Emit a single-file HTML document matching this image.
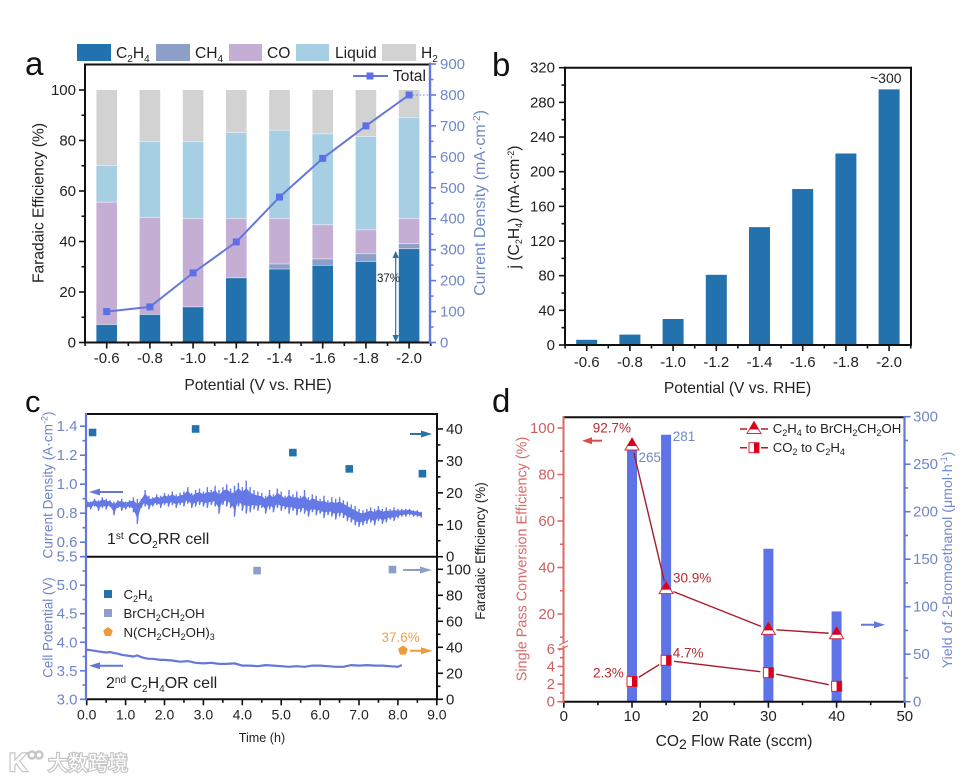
<!DOCTYPE html>
<html lang="en">
<head>
<meta charset="utf-8">
<title>Electrocatalysis results figure</title>
<style>
html,body{margin:0;padding:0;background:#fff;}
svg{display:block;font-family:"Liberation Sans","Noto Sans CJK SC",sans-serif;}
</style>
</head>
<body>
<svg id="fig" xmlns="http://www.w3.org/2000/svg" width="976" height="780" viewBox="0 0 976 780">
  <rect width="976" height="780" fill="#fff"/>
  <g id="layer-marks"></g>

  <!-- Panel a static -->
  <g>
    <text x="25" y="75" font-size="33" fill="#111">a</text>
    <g>
      <rect x="77" y="44" width="34" height="17" fill="#2372ae"/>
      <text x="116" y="58" font-size="15.6" fill="#222">C<tspan dy="4" font-size="10">2</tspan><tspan dy="-4">H</tspan><tspan dy="4" font-size="10">4</tspan></text>
      <rect x="156" y="44" width="34" height="17" fill="#8d9fc9"/>
      <text x="195" y="58" font-size="15.6" fill="#222">CH<tspan dy="4" font-size="10">4</tspan></text>
      <rect x="229" y="44" width="33" height="17" fill="#c4aed4"/>
      <text x="267" y="58" font-size="15.6" fill="#222">CO</text>
      <rect x="296" y="44" width="33" height="17" fill="#a6cfe3"/>
      <text x="335" y="58" font-size="15.6" fill="#222">Liquid</text>
      <rect x="382" y="44" width="34" height="17" fill="#d2d2d2"/>
      <text x="421" y="58" font-size="15.6" fill="#222">H<tspan dy="4" font-size="10">2</tspan></text>
    </g>
    <text x="258" y="390" font-size="15.6" text-anchor="middle" fill="#222">Potential (V vs. RHE)</text>
    <text transform="translate(43.5,203) rotate(-90)" font-size="15.6" text-anchor="middle" fill="#222">Faradaic Efficiency (%)</text>
    <text transform="translate(485,203) rotate(-90)" font-size="16" text-anchor="middle" fill="#6f8ac6">Current Density (mA·cm<tspan dy="-5" font-size="10">-2</tspan><tspan dy="5">)</tspan></text>
    <g>
      <line x1="353" y1="76" x2="388" y2="76" stroke="#6478dc" stroke-width="2"/>
      <rect x="366.5" y="72.5" width="7" height="7" fill="#5b6fe8"/>
      <text x="393" y="81" font-size="15.6" fill="#222">Total</text>
    </g>
    <text x="377" y="282" font-size="11.5" fill="#222">37%</text>
    <g stroke="#2372ae" fill="#2372ae">
      <line x1="395.7" y1="254" x2="395.7" y2="340" stroke-width="1.2"/>
      <polygon points="395.7,251 392.5,258 398.9,258" stroke="none"/>
      <polygon points="395.7,342 392.5,335 398.9,335" stroke="none"/>
    </g>
  </g>

  <!-- Panel b static -->
  <g>
    <text x="492" y="76" font-size="33" fill="#111">b</text>
    <text x="737.5" y="393" font-size="15.6" text-anchor="middle" fill="#222">Potential (V vs. RHE)</text>
    <text transform="translate(519,207) rotate(-90)" font-size="15.6" text-anchor="middle" fill="#222">j (C<tspan dy="3" font-size="9">2</tspan><tspan dy="-3">H</tspan><tspan dy="3" font-size="9">4</tspan><tspan dy="-3">) (mA·cm</tspan><tspan dy="-5" font-size="9">-2</tspan><tspan dy="5">)</tspan></text>
    <text x="870" y="83" font-size="14" fill="#222">~300</text>
  </g>

  <!-- Panel c static -->
  <g>
    <text x="25" y="412" font-size="31" fill="#111">c</text>
    <text transform="translate(52.5,485) rotate(-90)" font-size="13.6" text-anchor="middle" fill="#6f85c8">Current Density (A·cm<tspan dy="-5" font-size="9">-2</tspan><tspan dy="5">)</tspan></text>
    <text transform="translate(52.5,627.5) rotate(-90)" font-size="13.4" text-anchor="middle" fill="#6f85c8">Cell Potential (V)</text>
    <text transform="translate(485,551) rotate(-90)" font-size="13.4" text-anchor="middle" fill="#222">Faradaic Efficiency (%)</text>
    <text x="262" y="742" font-size="12.6" text-anchor="middle" fill="#222">Time (h)</text>
    <text x="107" y="544" font-size="16" fill="#222">1<tspan dy="-5" font-size="10">st</tspan><tspan dy="5"> CO</tspan><tspan dy="4" font-size="10">2</tspan><tspan dy="-4">RR cell</tspan></text>
    <text x="106" y="688" font-size="16" fill="#222">2<tspan dy="-5" font-size="10">nd</tspan><tspan dy="5"> C</tspan><tspan dy="4" font-size="10">2</tspan><tspan dy="-4">H</tspan><tspan dy="4" font-size="10">4</tspan><tspan dy="-4">OR cell</tspan></text>
    <g>
      <rect x="104" y="590" width="8" height="8" fill="#2372ae"/>
      <text x="123.5" y="599" font-size="13.2" fill="#222">C<tspan dy="3" font-size="9">2</tspan><tspan dy="-3">H</tspan><tspan dy="3" font-size="9">4</tspan></text>
      <rect x="104" y="609" width="8" height="8" fill="#8d9fc9"/>
      <text x="123.5" y="618" font-size="13.2" fill="#222">BrCH<tspan dy="3" font-size="9">2</tspan><tspan dy="-3">CH</tspan><tspan dy="3" font-size="9">2</tspan><tspan dy="-3">OH</tspan></text>
      <polygon points="108,627 112.8,630.5 111,636 105,636 103.2,630.5" fill="#ec9a3a"/>
      <text x="123.5" y="637" font-size="13.2" fill="#222">N(CH<tspan dy="3" font-size="9">2</tspan><tspan dy="-3">CH</tspan><tspan dy="3" font-size="9">2</tspan><tspan dy="-3">OH)</tspan><tspan dy="3" font-size="9">3</tspan></text>
    </g>
    <text x="381.5" y="642" font-size="13.5" fill="#e9a24a">37.6%</text>
    <g>
      <g stroke="#6478dc" fill="#6478dc"><line x1="123" y1="492" x2="94" y2="492" stroke-width="2"/><polygon points="89,492 100,488.5 100,495.5" stroke="none"/></g>
      <g stroke="#2a72a5" fill="#2a72a5"><line x1="410" y1="434" x2="426" y2="434" stroke-width="2"/><polygon points="432,434 421,430.5 421,437.5" stroke="none"/></g>
      <g stroke="#8d9fc9" fill="#8d9fc9"><line x1="403" y1="570" x2="426" y2="570" stroke-width="2"/><polygon points="432,570 420,566.5 420,573.5" stroke="none"/></g>
      <g stroke="#ec9a3a" fill="#ec9a3a"><line x1="410" y1="650.7" x2="427" y2="650.7" stroke-width="2"/><polygon points="432.5,650.7 421,647.2 421,654.2" stroke="none"/></g>
      <g stroke="#6478dc" fill="#6478dc"><line x1="123" y1="665.7" x2="94" y2="665.7" stroke-width="2"/><polygon points="89,665.7 100,662.2 100,669.2" stroke="none"/></g>
    </g>
  </g>

  <!-- Panel d static -->
  <g>
    <text x="492" y="412" font-size="33" fill="#111">d</text>
    <text x="734" y="746" font-size="15.6" text-anchor="middle" fill="#222">CO<tspan dy="3" font-size="14">2</tspan><tspan dy="-3"> Flow Rate (sccm)</tspan></text>
    <text transform="translate(526.5,559) rotate(-90)" font-size="14.4" text-anchor="middle" fill="#d66a6a">Single Pass Conversion Efficiency (%)</text>
    <text transform="translate(952,560) rotate(-90)" font-size="14.2" text-anchor="middle" fill="#7088d8">Yield of 2-Bromoethanol (μmol·h<tspan dy="-5" font-size="9">-1</tspan><tspan dy="5">)</tspan></text>
    <text x="592.7" y="432.7" font-size="13.5" fill="#b52a30">92.7%</text>
    <text x="638.5" y="462" font-size="13.5" fill="#7088c6">265</text>
    <text x="672.7" y="441" font-size="13.5" fill="#7088c6">281</text>
    <text x="673" y="582.7" font-size="13.5" fill="#b52a30">30.9%</text>
    <text x="672.7" y="657.3" font-size="13.5" fill="#b52a30">4.7%</text>
    <text x="593" y="677.7" font-size="13.5" fill="#b52a30">2.3%</text>
    <g stroke="#d94a4a" fill="#d94a4a"><line x1="602" y1="440.7" x2="586" y2="440.7" stroke-width="2"/><polygon points="582,440.7 592,437.2 592,444.2" stroke="none"/></g>
    <g stroke="#6478dc" fill="#6478dc"><line x1="861" y1="624.7" x2="880" y2="624.7" stroke-width="2"/><polygon points="885,624.7 874,621.2 874,628.2" stroke="none"/></g>
    <g>
      <line x1="740" y1="429" x2="768" y2="429" stroke="#b5182c" stroke-width="1.5" stroke-dasharray="7 14"/>
      <polygon points="754,421.5 761,433.5 747,433.5" fill="#fff" stroke="#d9273a" stroke-width="1"/>
      <polygon points="754,421.5 758.7,429.5 749.3,429.5" fill="#d9001b"/>
      <text x="772.7" y="433" font-size="13.2" fill="#222">C<tspan dy="3" font-size="9">2</tspan><tspan dy="-3">H</tspan><tspan dy="3" font-size="9">4</tspan><tspan dy="-3"> to BrCH</tspan><tspan dy="3" font-size="9">2</tspan><tspan dy="-3">CH</tspan><tspan dy="3" font-size="9">2</tspan><tspan dy="-3">OH</tspan></text>
      <line x1="740" y1="447.7" x2="768" y2="447.7" stroke="#b5182c" stroke-width="1.5" stroke-dasharray="7 14"/>
      <rect x="749" y="442.7" width="10" height="10" fill="#fff" stroke="#d9273a" stroke-width="1"/>
      <rect x="754" y="442.7" width="5" height="10" fill="#d9001b"/>
      <text x="772.7" y="452" font-size="13.2" fill="#222">CO<tspan dy="3" font-size="9">2</tspan><tspan dy="-3"> to C</tspan><tspan dy="3" font-size="9">2</tspan><tspan dy="-3">H</tspan><tspan dy="3" font-size="9">4</tspan></text>
    </g>
  </g>

  <!-- Watermark -->
  <g fill="#fff" stroke="#c6c6c6" stroke-width="2.4" style="paint-order:stroke">
    <text x="9" y="771" font-size="25" font-weight="bold">K</text>
    <circle cx="32" cy="755" r="3.5" fill="none"/>
    <circle cx="39" cy="755" r="3.5" fill="none"/>
    <text x="48" y="770" font-size="20" font-family="'Noto Sans CJK SC',sans-serif">大数跨境</text>
  </g>
</svg>

<script>
// ---------- Shared categories ----------
const potentialLabels = ['-0.6','-0.8','-1.0','-1.2','-1.4','-1.6','-1.8','-2.0'];

// ---------- Panel a data ----------
const feC2H4  = [7, 11, 14, 25.5, 29, 30.5, 32, 37];
const feCH4   = [0, 0, 0, 0, 2, 2.5, 3, 2];
const feCO    = [48.5, 38.5, 35, 23.5, 18, 13.5, 9.5, 10];
const feLiquid= [14.5, 30, 30.5, 34, 35, 36, 37, 40];
const feH2    = [30, 20.5, 20.5, 17, 16, 17.5, 18.5, 11];
const totalCurrent = [100, 115, 225, 325, 470, 595, 700, 800];
const aLeftTicks  = [0, 20, 40, 60, 80, 100];
const aLeftMinor  = [10, 30, 50, 70, 90];
const aRightTicks = [0, 100, 200, 300, 400, 500, 600, 700, 800, 900];
const aRightMinor = [50, 150, 250, 350, 450, 550, 650, 750, 850];

// ---------- Panel b data ----------
const jC2H4 = [6, 12, 30, 81, 136, 180, 221, 295];
const bTicks = [0, 40, 80, 120, 160, 200, 240, 280, 320];
const bMinor = [20, 60, 100, 140, 180, 220, 260, 300];

// ---------- Panel c data ----------
const traceTime = [0,0.1,0.2,0.3,0.4,0.5,0.6,0.7,0.8,0.9,1,1.1,1.2,1.3,1.4,1.5,1.6,1.7,1.8,1.9,2,2.1,2.2,2.3,2.4,2.5,2.6,2.7,2.8,2.9,3,3.1,3.2,3.3,3.4,3.5,3.6,3.7,3.8,3.9,4,4.1,4.2,4.3,4.4,4.5,4.6,4.7,4.8,4.9,5,5.1,5.2,5.3,5.4,5.5,5.6,5.7,5.8,5.9,6,6.1,6.2,6.3,6.4,6.5,6.6,6.7,6.8,6.9,7,7.1,7.2,7.3,7.4,7.5,7.6,7.7,7.8,7.9,8,8.1,8.2,8.3,8.4,8.5,8.6];
const currentHigh = [0.89,0.88,0.90,0.89,0.91,0.90,0.89,0.88,0.89,0.90,0.88,0.89,0.91,0.90,0.90,0.96,0.92,0.91,0.93,0.92,0.94,0.93,0.95,0.93,0.94,0.95,0.98,0.94,0.96,0.97,0.95,0.98,0.96,0.99,0.96,0.98,1.00,0.97,0.99,1.01,0.98,1.025,0.98,0.96,0.95,0.94,0.92,0.96,0.93,0.97,0.95,0.92,0.96,0.93,0.95,0.92,0.96,0.91,0.93,0.92,0.90,0.92,0.89,0.91,0.90,0.91,0.89,0.88,0.86,0.85,0.83,0.82,0.83,0.84,0.83,0.85,0.83,0.84,0.83,0.84,0.83,0.83,0.83,0.83,0.82,0.82,0.81];
const currentLow  = [0.84,0.83,0.85,0.82,0.84,0.83,0.85,0.79,0.84,0.82,0.83,0.84,0.81,0.73,0.84,0.85,0.83,0.85,0.86,0.84,0.86,0.85,0.86,0.84,0.86,0.85,0.87,0.84,0.85,0.86,0.85,0.84,0.86,0.85,0.80,0.86,0.85,0.84,0.78,0.85,0.82,0.80,0.81,0.83,0.82,0.84,0.80,0.83,0.81,0.84,0.82,0.83,0.80,0.82,0.79,0.81,0.80,0.78,0.81,0.79,0.80,0.77,0.79,0.78,0.76,0.78,0.77,0.75,0.74,0.72,0.71,0.72,0.73,0.74,0.72,0.75,0.73,0.74,0.76,0.75,0.77,0.78,0.78,0.79,0.78,0.78,0.77];
const potentialTime = [0,0.1,0.2,0.3,0.4,0.5,0.6,0.7,0.8,0.9,1,1.1,1.2,1.3,1.4,1.5,1.6,1.7,1.8,1.9,2,2.2,2.4,2.6,2.8,3,3.2,3.4,3.6,3.8,4,4.2,4.4,4.6,4.8,5,5.2,5.4,5.6,5.8,6,6.2,6.4,6.6,6.8,7,7.2,7.4,7.6,7.8,8,8.1];
const cellPotential = [3.87,3.86,3.85,3.84,3.83,3.82,3.83,3.81,3.80,3.78,3.77,3.76,3.75,3.77,3.74,3.72,3.71,3.71,3.70,3.69,3.69,3.68,3.66,3.67,3.64,3.63,3.64,3.62,3.62,3.63,3.59,3.59,3.58,3.60,3.59,3.58,3.57,3.58,3.57,3.59,3.59,3.58,3.57,3.57,3.60,3.59,3.60,3.59,3.59,3.58,3.57,3.60];
const c2h4Time = [0.15, 2.8, 5.3, 6.75, 8.63];
const c2h4FE   = [38.9, 40, 32.6, 27.5, 26];
const bromoTime = [4.38, 7.86];
const bromoFE   = [99, 99.8];
const amineTime = [8.13];
const amineFE   = [37.6];
const cCurrentLabels = ['0.6','0.8','1.0','1.2','1.4'];
const cCurrentMinor = [0.5,0.7,0.9,1.1,1.3];
const cPotentialLabels = ['3.0','3.5','4.0','4.5','5.0','5.5'];
const cPotentialMinor = [3.25,3.75,4.25,4.75,5.25];
const cFeTopTicks = [0,10,20,30,40];
const cFeTopMinor = [5,15,25,35];
const cFeBottomTicks = [0,20,40,60,80,100];
const cFeBottomMinor = [10,30,50,70,90];
const cTimeLabels = ['0.0','1.0','2.0','3.0','4.0','5.0','6.0','7.0','8.0','9.0'];
const cTimeMinor = [0.5,1.5,2.5,3.5,4.5,5.5,6.5,7.5,8.5];

// ---------- Panel d data ----------
const flowRates = [10, 15, 30, 40];
const bromoYield = [265, 281, 161, 95];
const ethyleneConversion = [92.7, 30.9, 13.4, 11.5];
const co2Conversion = [2.3, 4.7, 3.3, 1.75];
const dLeftTicks = [0, 2, 4, 6, 20, 40, 60, 80, 100];
const dLeftMinor = [1, 3, 5, 10, 30, 50, 70, 90];
const dRightTicks = [0, 50, 100, 150, 200, 250, 300];
const dRightMinor = [25, 75, 125, 175, 225, 275];
const dFlowTicks = [0, 10, 20, 30, 40, 50];
const dFlowMinor = [5, 15, 25, 35, 45];

// ---------- Axis functions ----------
const xA = i => 106.7 + i * 43.2;
const yA = v => 342.5 - v * 2.525;
const yAr = v => 342.5 - v * (278.5 / 900);
const xB = i => 586.7 + i * 43.2;
const yB = v => 345 - v * (277.3 / 320);
const xC = t => 86.7 + t * 38.9;
const yCurrent = v => 556.7 - (v - 0.5) * 145;
const yFeTop = v => 556.7 - v * (143.7 / 45);
const yPotential = v => 699.3 - (v - 3) * (142.6 / 2.5);
const yFeBottom = v => 699.3 - v * 1.3;
const xD = v => 563.8 + v * 6.82;
const yDRight = v => 701.7 - v * (285 / 300);
const yDLeft = v => v <= 6.5 ? 701.7 - v * 8.8 : 385 + (687 - (v - 20) * 6.975) / 3;

const NS = 'http://www.w3.org/2000/svg';
const root = document.getElementById('layer-marks');
function make(tag, attrs, parent) {
  const node = document.createElementNS(NS, tag);
  for (const k in attrs) node.setAttribute(k, attrs[k]);
  (parent || root).appendChild(node);
  return node;
}
function group(name) {
  const g = make('g', {});
  
  
  return g;
}
function spine(name, x1, y1, x2, y2, color, width) {
  const l = make('line', {x1, y1, x2, y2, stroke: color, 'stroke-width': width, 'stroke-linecap': 'square'});
  
  
  return l;
}
// side: 'left' | 'right' | 'bottom'
function axisTicks(name, side, at, scale, majors, minors, labels, o) {
  const g = group(name);
  const dir = side === 'left' ? -1 : 1;
  const color = o.color || '#111';
  const width = o.width || 1.6;
  function tick(v, len, tickName) {
    const p = scale(v);
    const a = side === 'bottom'
      ? {x1: p, x2: p, y1: at, y2: at + len}
      : {y1: p, y2: p, x1: at, x2: at + dir * len};
    const t = make('line', Object.assign(a, {stroke: color, 'stroke-width': width}), g);
    
    
  }
  majors.forEach(v => tick(v, o.major || 6, 'major-tick'));
  minors.forEach(v => tick(v, o.minor || 3.5, 'minor-tick'));
  if (labels) labels.forEach((lab, i) => {
    const p = scale(majors[i]);
    const attrs = {'font-size': o.font || 14.5, fill: o.text || '#222'};
    if (side === 'bottom') { attrs.x = p; attrs.y = o.labelPos; attrs['text-anchor'] = 'middle'; }
    else { attrs.x = o.labelPos; attrs.y = p + (o.dy === undefined ? 5 : o.dy); attrs['text-anchor'] = side === 'left' ? 'end' : 'start'; }
    const t = make('text', attrs, g);
    t.textContent = lab;
    
    
  });
}
function noiseStrokes(xs, hi, lo) {
  let d = '';
  xs.forEach((x, i) => {
    d += 'M' + x.toFixed(1) + ' ' + hi[i].toFixed(1) + 'L' + x.toFixed(1) + ' ' + lo[i].toFixed(1);
    if (i + 1 < xs.length) d += 'L' + ((x + xs[i + 1]) / 2).toFixed(1) + ' ' + ((hi[i] + lo[i + 1]) / 2).toFixed(1);
  });
  return d;
}
function bandPoints(xs, hi, lo) {
  const core = 0.5;
  const top = xs.map((x, i) => x.toFixed(1) + ',' + ((hi[i] + lo[i]) / 2 + (hi[i] - lo[i]) / 2 * core).toFixed(1));
  const bottom = xs.map((x, i) => x.toFixed(1) + ',' + ((hi[i] + lo[i]) / 2 - (hi[i] - lo[i]) / 2 * core).toFixed(1)).reverse();
  return top.concat(bottom).join(' ');
}
function polyline(xs, ys) {
  return xs.map((x, i) => x.toFixed(1) + ',' + ys[i].toFixed(1)).join(' ');
}

// ---------- Panel a ----------
(function () {
  const g = group('panel-a-stacked-bars');
  const series = [
    ['c2h4', feC2H4, '#2372ae'], ['ch4', feCH4, '#8d9fc9'], ['co', feCO, '#c4aed4'],
    ['liquid', feLiquid, '#a6cfe3'], ['h2', feH2, '#d2d2d2']
  ];
  potentialLabels.forEach((lab, i) => {
    let base = 0;
    series.forEach(s => {
      const v = s[1][i];
      const r = make('rect', {x: xA(i) - 10.3, y: yA(base + v), width: 20.6, height: Math.max(0, yA(base) - yA(base + v) - 0.5), fill: s[2]}, g);
      
      
      base += v;
    });
  });
  const dotted = make('line', {x1: xA(7), y1: yAr(totalCurrent[7]), x2: 430, y2: yAr(totalCurrent[7]), stroke: '#6478dc', 'stroke-width': 1, 'stroke-dasharray': '1.5 2'});
  
  
  const line = make('polyline', {points: polyline(potentialLabels.map((_, i) => xA(i)), totalCurrent.map(yAr)), fill: 'none', stroke: '#6478dc', 'stroke-width': 2});
  
  
  const pts = group('total-current-points');
  totalCurrent.forEach((v, i) => {
    const p = make('rect', {x: xA(i) - 3.5, y: yAr(v) - 3.5, width: 7, height: 7, fill: '#5b6fe8'}, pts);
    
    
  });
  axisTicks('panel-a-x-axis', 'bottom', 342.5, xA, potentialLabels.map((_, i) => i), [-0.5, 0.5, 1.5, 2.5, 3.5, 4.5, 5.5, 6.5, 7.5], potentialLabels, {labelPos: 363, font: 15});
  axisTicks('panel-a-left-axis', 'left', 85, yA, aLeftTicks, aLeftMinor, aLeftTicks.map(String), {labelPos: 76, font: 15});
  axisTicks('panel-a-right-axis', 'right', 430, yAr, aRightTicks, aRightMinor, aRightTicks.map(String), {labelPos: 440, font: 15, color: '#6478dc', text: '#7088c6'});
  spine('panel-a-top-spine', 85, 64.5, 430, 64.5, '#111', 2);
  spine('panel-a-bottom-spine', 85, 342.5, 430, 342.5, '#111', 2);
  spine('panel-a-left-spine', 85, 64.5, 85, 342.5, '#111', 2);
  spine('panel-a-right-spine', 430, 64, 430, 342.5, '#6478dc', 2.4);
})();

// ---------- Panel b ----------
(function () {
  const g = group('panel-b-bars');
  jC2H4.forEach((v, i) => {
    const r = make('rect', {x: xB(i) - 10.5, y: yB(v), width: 21, height: yB(0) - yB(v), fill: '#2372ae'}, g);
    
    
  });
  axisTicks('panel-b-x-axis', 'bottom', 345, xB, potentialLabels.map((_, i) => i), [-0.5, 0.5, 1.5, 2.5, 3.5, 4.5, 5.5, 6.5, 7.5], potentialLabels, {labelPos: 367, font: 15});
  axisTicks('panel-b-y-axis', 'left', 565, yB, bTicks, bMinor, bTicks.map(String), {labelPos: 555, font: 15});
  spine('panel-b-top-spine', 565, 67.7, 911, 67.7, '#111', 2);
  spine('panel-b-bottom-spine', 565, 345, 911, 345, '#111', 2);
  spine('panel-b-left-spine', 565, 67.7, 565, 345, '#111', 2);
  spine('panel-b-right-spine', 911, 67.7, 911, 345, '#111', 2);
})();

// ---------- Panel c ----------
(function () {
  const xs = traceTime.map(xC), hi = currentHigh.map(yCurrent), lo = currentLow.map(yCurrent);
  const band = make('polygon', {points: bandPoints(xs, hi, lo), fill: '#6478e6', stroke: '#6478e6', 'stroke-width': 1});
  
  
  const trace = make('path', {d: noiseStrokes(xs, hi, lo), fill: 'none', stroke: '#6478e6', 'stroke-width': 1.4, 'stroke-linejoin': 'round'});
  
  
  const trace2 = make('polyline', {points: polyline(potentialTime.map(xC), cellPotential.map(yPotential)), fill: 'none', stroke: '#6478dc', 'stroke-width': 2.2});
  
  
  const g1 = group('c2h4-efficiency-points');
  c2h4FE.forEach((v, i) => {
    const p = make('rect', {x: xC(c2h4Time[i]) - 3.8, y: yFeTop(v) - 3.8, width: 7.6, height: 7.6, fill: '#2372ae'}, g1);
    
    
  });
  const g2 = group('bromoethanol-efficiency-points');
  bromoFE.forEach((v, i) => {
    const p = make('rect', {x: xC(bromoTime[i]) - 3.8, y: yFeBottom(v) - 3.8, width: 7.6, height: 7.6, fill: '#8d9fc9'}, g2);
    
    
  });
  const g3 = group('triethanolamine-efficiency-points');
  amineFE.forEach((v, i) => {
    const cx = xC(amineTime[i]), cy = yFeBottom(v);
    const pts = [[0,-5],[4.8,-1.5],[3,4.2],[-3,4.2],[-4.8,-1.5]].map(q => (cx + q[0]) + ',' + (cy + q[1])).join(' ');
    const p = make('polygon', {points: pts, fill: '#ec9a3a'}, g3);
    
    
  });
  const blue = '#6478dc', blueText = '#6f85c8';
  axisTicks('current-density-axis', 'left', 86, yCurrent, cCurrentLabels.map(Number), cCurrentMinor, cCurrentLabels, {labelPos: 77.5, color: blue, text: blueText, font: 15});
  axisTicks('cell-potential-axis', 'left', 86, yPotential, cPotentialLabels.map(Number), cPotentialMinor, cPotentialLabels, {labelPos: 77.5, color: blue, text: blueText, font: 15});
  axisTicks('c2h4-efficiency-axis', 'right', 437, yFeTop, cFeTopTicks, cFeTopMinor, cFeTopTicks.map(String), {labelPos: 446, font: 15});
  axisTicks('bottom-efficiency-axis', 'right', 437, yFeBottom, cFeBottomTicks, cFeBottomMinor, cFeBottomTicks.map(String), {labelPos: 446, font: 15});
  axisTicks('time-axis', 'bottom', 699.3, xC, cTimeLabels.map(Number), cTimeMinor, cTimeLabels, {labelPos: 719.5, font: 14});
  spine('panel-c-top-spine', 86, 414, 437, 414, '#111', 2);
  spine('panel-c-divider', 86, 556.7, 437, 556.7, '#111', 2);
  spine('panel-c-bottom-spine', 86, 699.3, 437, 699.3, '#111', 2);
  spine('panel-c-right-spine', 437, 414, 437, 699.3, '#111', 2);
  spine('panel-c-left-spine', 86, 414, 86, 699.3, blue, 2.2);
})();

// ---------- Panel d ----------
(function () {
  const g = group('bromoethanol-yield-bars');
  flowRates.forEach((f, i) => {
    const r = make('rect', {x: xD(f) - 5, y: yDRight(bromoYield[i]), width: 10, height: yDRight(0) - yDRight(bromoYield[i]), fill: '#5f73e8'}, g);
    
    
  });
  function connect(name, ys, gap) {
    const lg = group(name);
    for (let i = 0; i + 1 < ys.length; i++) {
      const x1 = xD(flowRates[i]), x2 = xD(flowRates[i + 1]), y1 = yDLeft(ys[i]), y2 = yDLeft(ys[i + 1]);
      const len = Math.hypot(x2 - x1, y2 - y1), ux = (x2 - x1) / len, uy = (y2 - y1) / len;
      const l = make('line', {x1: x1 + ux * gap, y1: y1 + uy * gap, x2: x2 - ux * gap, y2: y2 - uy * gap, stroke: '#a81a2c', 'stroke-width': 1.4}, lg);
      
      
    }
  }
  connect('ethylene-conversion-line', ethyleneConversion, 8);
  connect('co2-conversion-line', co2Conversion, 8);
  const tg = group('ethylene-conversion-markers');
  ethyleneConversion.forEach((v, i) => {
    const cx = xD(flowRates[i]), cy = yDLeft(v);
    const o = make('polygon', {points: `${cx},${cy - 7} ${cx + 7},${cy + 5} ${cx - 7},${cy + 5}`, fill: '#fff', stroke: '#d9273a', 'stroke-width': 1}, tg);
    
    
    const f = make('polygon', {points: `${cx},${cy - 7} ${cx + 4.7},${cy + 1} ${cx - 4.7},${cy + 1}`, fill: '#d9001b'}, tg);
    
    
  });
  const sg = group('co2-conversion-markers');
  co2Conversion.forEach((v, i) => {
    const cx = xD(flowRates[i]), cy = yDLeft(v);
    const o = make('rect', {x: cx - 5, y: cy - 5, width: 10, height: 10, fill: '#fff', stroke: '#d9273a', 'stroke-width': 1}, sg);
    
    
    const f = make('rect', {x: cx, y: cy - 5, width: 5, height: 10, fill: '#d9001b'}, sg);
    
    
  });
  const red = '#dd6a6a', redText = '#cc6060', blue = '#6478dc';
  axisTicks('conversion-axis', 'left', 563.5, yDLeft, dLeftTicks, dLeftMinor, dLeftTicks.map(String), {labelPos: 555, color: red, text: redText, font: 15});
  axisTicks('yield-axis', 'right', 904.5, yDRight, dRightTicks, dRightMinor, dRightTicks.map(String), {labelPos: 913, color: blue, text: '#7088c6', font: 15});
  axisTicks('flow-rate-axis', 'bottom', 701.7, xD, dFlowTicks, dFlowMinor, dFlowTicks.map(String), {labelPos: 721, font: 15});
  spine('panel-d-top-spine', 563.5, 417.3, 904.5, 417.3, '#111', 2);
  spine('panel-d-bottom-spine', 563.5, 701.7, 904.5, 701.7, '#111', 2);
  spine('panel-d-left-spine-upper', 563.5, 417.3, 563.5, 642, red, 2);
  spine('panel-d-left-spine-lower', 563.5, 647, 563.5, 701.7, red, 2);
  spine('panel-d-right-spine', 904.5, 417.3, 904.5, 701.7, blue, 2.2);
  spine('axis-break-upper', 559.5, 645, 567.5, 641, red, 1.2);
  spine('axis-break-lower', 559.5, 650, 567.5, 646, red, 1.2);
})();
</script>
</body>
</html>
